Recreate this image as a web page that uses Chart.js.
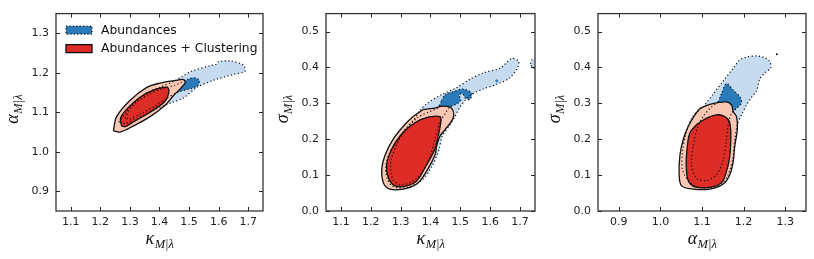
<!DOCTYPE html>
<html>
<head>
<meta charset="utf-8">
<script src="https://cdn.jsdelivr.net/npm/chart.js@4.4.0/dist/chart.umd.min.js"></script>
<style>
  html, body { margin: 0; padding: 0; background: #fff; }
  #wrap { position: relative; width: 814px; height: 259px; }
  canvas { position: absolute; top: 0; }
</style>
</head>
<body>
<div id="wrap">
  <canvas id="c1" width="270" height="259" style="left:0"></canvas>
  <canvas id="c2" width="272" height="259" style="left:270px"></canvas>
  <canvas id="c3" width="272" height="259" style="left:542px"></canvas>
</div>
<script>
// Tick values for each axis
const kappaTicks = [1.1, 1.2, 1.3, 1.4, 1.5, 1.6, 1.7];
const alphaTicks = [0.9, 1.0, 1.1, 1.2, 1.3];
const sigmaTicks = [0.0, 0.1, 0.2, 0.3, 0.4, 0.5];

const legendLabels = ['Abundances', 'Abundances + Clustering'];

// Contour outlines, [x, y] in data units
// Panel 1: kappa vs alpha
const kaAbund95 = [[1.262,1.075],[1.285,1.098],[1.320,1.128],[1.360,1.150],[1.400,1.163],[1.447,1.178],[1.475,1.190],[1.509,1.204],[1.571,1.218],[1.593,1.222],[1.599,1.228],[1.638,1.230],[1.683,1.220],[1.689,1.204],[1.650,1.196],[1.582,1.181],[1.526,1.163],[1.480,1.136],[1.440,1.124],[1.400,1.112],[1.360,1.098],[1.320,1.084],[1.285,1.072]];
const kaAbund68 = [[1.285,1.085],[1.300,1.110],[1.330,1.130],[1.370,1.148],[1.410,1.160],[1.450,1.168],[1.475,1.176],[1.500,1.185],[1.522,1.187],[1.535,1.180],[1.530,1.168],[1.510,1.161],[1.485,1.156],[1.460,1.150],[1.420,1.134],[1.380,1.114],[1.340,1.098],[1.300,1.083]];
const kaClust95 = [[1.244,1.053],[1.255,1.089],[1.300,1.130],[1.357,1.163],[1.402,1.174],[1.458,1.181],[1.482,1.183],[1.487,1.175],[1.473,1.162],[1.447,1.142],[1.419,1.118],[1.368,1.089],[1.311,1.065],[1.266,1.050]];
const kaClust68 = [[1.272,1.065],[1.268,1.085],[1.289,1.108],[1.334,1.138],[1.379,1.156],[1.424,1.164],[1.432,1.155],[1.425,1.135],[1.410,1.122],[1.357,1.095],[1.310,1.075],[1.285,1.064]];

// Panel 2: kappa vs sigma
const ksAbund95 = [[1.365,0.281],[1.387,0.299],[1.432,0.322],[1.488,0.344],[1.532,0.367],[1.577,0.385],[1.633,0.398],[1.672,0.425],[1.694,0.418],[1.694,0.403],[1.666,0.371],[1.622,0.353],[1.577,0.340],[1.532,0.322],[1.499,0.290],[1.482,0.263],[1.462,0.236],[1.440,0.210],[1.428,0.170],[1.405,0.125],[1.370,0.085],[1.320,0.066],[1.275,0.068],[1.255,0.090],[1.250,0.125],[1.262,0.160],[1.288,0.195],[1.316,0.228],[1.345,0.255]];
const ksAbund68 = [[1.437,0.307],[1.449,0.324],[1.482,0.334],[1.510,0.340],[1.538,0.328],[1.532,0.311],[1.516,0.315],[1.508,0.326],[1.496,0.324],[1.501,0.308],[1.485,0.297],[1.465,0.290],[1.452,0.275],[1.430,0.245],[1.412,0.191],[1.392,0.135],[1.350,0.088],[1.300,0.073],[1.272,0.092],[1.268,0.140],[1.290,0.190],[1.318,0.230],[1.360,0.262],[1.400,0.278],[1.425,0.288]];
const ksAbundEdge = [[1.735,0.410],[1.740,0.421],[1.752,0.423],[1.752,0.398],[1.742,0.400]];
const ksAbundSpot = [[1.616,0.362],[1.622,0.368],[1.628,0.362],[1.622,0.357]];
const ksClust95 = [[1.376,0.283],[1.409,0.286],[1.443,0.292],[1.471,0.286],[1.476,0.259],[1.449,0.227],[1.432,0.209],[1.421,0.183],[1.415,0.156],[1.387,0.111],[1.354,0.075],[1.309,0.061],[1.264,0.061],[1.242,0.079],[1.237,0.119],[1.248,0.156],[1.275,0.200],[1.309,0.236],[1.342,0.263]];
const ksClust68 = [[1.398,0.263],[1.432,0.263],[1.435,0.251],[1.426,0.209],[1.415,0.173],[1.387,0.129],[1.354,0.084],[1.320,0.070],[1.281,0.070],[1.259,0.092],[1.253,0.129],[1.270,0.173],[1.298,0.209],[1.331,0.236],[1.365,0.254]];

// Panel 3: alpha vs sigma
const asAbund95 = [[1.103,0.290],[1.127,0.326],[1.151,0.362],[1.175,0.398],[1.191,0.421],[1.207,0.429],[1.231,0.432],[1.251,0.427],[1.263,0.416],[1.265,0.398],[1.251,0.385],[1.239,0.367],[1.231,0.335],[1.219,0.317],[1.207,0.295],[1.195,0.268],[1.185,0.241],[1.179,0.200],[1.174,0.146],[1.163,0.102],[1.143,0.072],[1.111,0.064],[1.079,0.072],[1.054,0.111],[1.053,0.164],[1.062,0.218],[1.078,0.264]];
const asAbund68 = [[1.139,0.304],[1.147,0.328],[1.159,0.355],[1.175,0.337],[1.193,0.315],[1.194,0.299],[1.183,0.286],[1.171,0.272],[1.163,0.241],[1.158,0.191],[1.150,0.138],[1.135,0.102],[1.111,0.085],[1.086,0.092],[1.075,0.129],[1.079,0.183],[1.089,0.232],[1.103,0.263],[1.119,0.286]];
const asAbundDot = [[1.280,0.437]];
const asClust95 = [[1.095,0.286],[1.119,0.297],[1.135,0.301],[1.159,0.304],[1.171,0.295],[1.175,0.277],[1.183,0.263],[1.185,0.227],[1.179,0.183],[1.175,0.138],[1.167,0.102],[1.151,0.075],[1.119,0.061],[1.079,0.061],[1.051,0.070],[1.045,0.102],[1.047,0.156],[1.055,0.200],[1.067,0.236],[1.083,0.268]];
const asClust68 = [[1.087,0.241],[1.111,0.259],[1.135,0.268],[1.155,0.263],[1.167,0.245],[1.169,0.191],[1.166,0.146],[1.159,0.111],[1.147,0.079],[1.119,0.066],[1.083,0.067],[1.067,0.084],[1.062,0.129],[1.065,0.183],[1.071,0.218]];

const lightBlue = '#c6dbef';
const darkBlue = '#2b7bba';
const lightRed = '#fcc8b3';
const darkRed = '#de2d26';

// close the ring and turn [x, y] pairs into chart points
const ring = (pts) => pts.concat([pts[0]]).map(([x, y]) => ({ x, y }));

const fillSet = (pts, color, order, tension = 0.3) => ({
  data: ring(pts),
  backgroundColor: color,
  borderColor: 'rgba(0,0,0,0)',
  borderWidth: 0,
  fill: 'shape',
  pointRadius: 0,
  tension,
  order
});

const solidSet = (pts, color, order) => ({
  data: ring(pts),
  backgroundColor: color,
  borderColor: '#111',
  borderWidth: 1.3,
  fill: 'shape',
  pointRadius: 0,
  tension: 0.35,
  order
});

const dottedSet = (pts, order) => ({
  data: ring(pts),
  borderColor: '#111',
  borderWidth: 1.2,
  borderDash: [1.2, 2.4],
  fill: false,
  pointRadius: 0,
  tension: 0.3,
  order
});

// italic greek symbol with an M|lambda subscript, like matplotlib mathtext
const drawMathLabel = (ctx, sym, x, y, rotate) => {
  ctx.save();
  ctx.translate(x, y);
  if (rotate) ctx.rotate(-Math.PI / 2);
  ctx.fillStyle = '#111';
  ctx.textBaseline = 'alphabetic';
  const mainFont = 'italic 18px "Liberation Serif"';
  const subFont = 'italic 12.5px "Liberation Serif"';
  ctx.font = mainFont;
  const w1 = ctx.measureText(sym).width;
  ctx.font = subFont;
  const w2 = ctx.measureText('M|λ').width;
  const x0 = -(w1 + w2) / 2;
  ctx.font = mainFont;
  ctx.fillText(sym, x0, 0);
  ctx.font = subFont;
  ctx.fillText('M|λ', x0 + w1 + 0.5, 4);
  ctx.restore();
};

const framePlugin = {
  id: 'frame',
  afterDraw(chart, args, opts) {
    const { ctx, chartArea: a, scales } = chart;
    ctx.save();
    ctx.strokeStyle = '#222';
    ctx.lineWidth = 1;
    ctx.beginPath();
    // matplotlib-style inward ticks on all four sides
    opts.xTicks.forEach(v => {
      const px = Math.round(scales.x.getPixelForValue(v)) + 0.5;
      ctx.moveTo(px, a.bottom); ctx.lineTo(px, a.bottom - 4);
      ctx.moveTo(px, a.top); ctx.lineTo(px, a.top + 4);
    });
    opts.yTicks.forEach(v => {
      const py = Math.round(scales.y.getPixelForValue(v)) + 0.5;
      ctx.moveTo(a.left, py); ctx.lineTo(a.left + 4, py);
      ctx.moveTo(a.right, py); ctx.lineTo(a.right - 4, py);
    });
    ctx.stroke();
    ctx.lineWidth = 1.3;
    ctx.strokeStyle = '#333';
    ctx.strokeRect(a.left, a.top, a.right - a.left, a.bottom - a.top);

    drawMathLabel(ctx, opts.xSym, (a.left + a.right) / 2, 244, false);
    drawMathLabel(ctx, opts.ySym, a.left - 38, (a.top + a.bottom) / 2 - 3, true);

    if (opts.legend) {
      const lx = a.left + 10;
      ctx.fillStyle = darkBlue;
      ctx.fillRect(lx, a.top + 12.5, 26, 8);
      ctx.strokeStyle = '#111';
      ctx.lineWidth = 1.2;
      ctx.setLineDash([1.2, 2.2]);
      ctx.strokeRect(lx, a.top + 12.5, 26, 8);
      ctx.setLineDash([]);
      ctx.fillStyle = darkRed;
      ctx.fillRect(lx, a.top + 31, 26, 8);
      ctx.lineWidth = 1.3;
      ctx.strokeRect(lx, a.top + 31, 26, 8);
      ctx.fillStyle = '#111';
      ctx.font = '12.3px "DejaVu Sans"';
      ctx.textBaseline = 'middle';
      ctx.fillText(legendLabels[0], a.left + 45, a.top + 17);
      ctx.fillText(legendLabels[1], a.left + 45, a.top + 35.5);
    }
    ctx.restore();
  }
};

const axisOptions = (min, max, ticks, isY) => ({
  type: 'linear',
  min, max,
  afterBuildTicks: (scale) => { scale.ticks = ticks.map(v => ({ value: v })); },
  afterFit: (scale) => { if (isY) scale.width = 56; else scale.height = 48; },
  grid: { display: false, drawTicks: false },
  border: { display: false },
  ticks: {
    padding: isY ? 7 : 5,
    color: '#222',
    font: { family: 'DejaVu Sans', size: 11 },
    callback: (v) => Number(v).toFixed(1)
  }
});

const createPanel = (canvasId, datasets, xRange, xTicks, yRange, yTicks, xSym, ySym, rightPad, legend) => {
  const ctx = document.getElementById(canvasId).getContext('2d');
  return new Chart(ctx, {
    type: 'line',
    data: { datasets },
    options: {
      responsive: false,
      animation: false,
      events: [],
      layout: { padding: { top: 7, right: rightPad, left: 0, bottom: 0 } },
      scales: {
        x: axisOptions(xRange[0], xRange[1], xTicks, false),
        y: axisOptions(yRange[0], yRange[1], yTicks, true)
      },
      plugins: {
        legend: { display: false },
        tooltip: { enabled: false },
        frame: { xTicks, yTicks, xSym, ySym, legend }
      }
    },
    plugins: [framePlugin]
  });
};

// Lower order is drawn on top
createPanel('c1', [
  dottedSet(kaAbund95, 1),
  dottedSet(kaAbund68, 2),
  solidSet(kaClust68, darkRed, 3),
  solidSet(kaClust95, lightRed, 4),
  fillSet(kaAbund68, darkBlue, 5),
  fillSet(kaAbund95, lightBlue, 6)
], [1.05, 1.75], kappaTicks, [0.85, 1.35], alphaTicks, 'κ', 'α', 7, true);

createPanel('c2', [
  dottedSet(ksAbund95, 1),
  dottedSet(ksAbund68, 2),
  dottedSet(ksAbundEdge, 2),
  solidSet(ksClust68, darkRed, 3),
  solidSet(ksClust95, lightRed, 4),
  fillSet(ksAbundSpot, darkBlue, 5, 0),
  fillSet(ksAbund68, darkBlue, 5),
  fillSet(ksAbundEdge, lightBlue, 6, 0),
  fillSet(ksAbund95, lightBlue, 6)
], [1.05, 1.75], kappaTicks, [0, 0.55], sigmaTicks, 'κ', 'σ', 7, false);

createPanel('c3', [
  { data: asAbundDot.map(([x, y]) => ({ x, y })), showLine: false, pointRadius: 1, pointBackgroundColor: '#111', pointBorderWidth: 0, order: 0 },
  dottedSet(asAbund95, 1),
  dottedSet(asAbund68, 2),
  solidSet(asClust68, darkRed, 3),
  solidSet(asClust95, lightRed, 4),
  fillSet(asAbund68, darkBlue, 5),
  fillSet(asAbund95, lightBlue, 6)
], [0.85, 1.35], alphaTicks, [0, 0.55], sigmaTicks, 'α', 'σ', 8, false);
</script>
</body>
</html>
